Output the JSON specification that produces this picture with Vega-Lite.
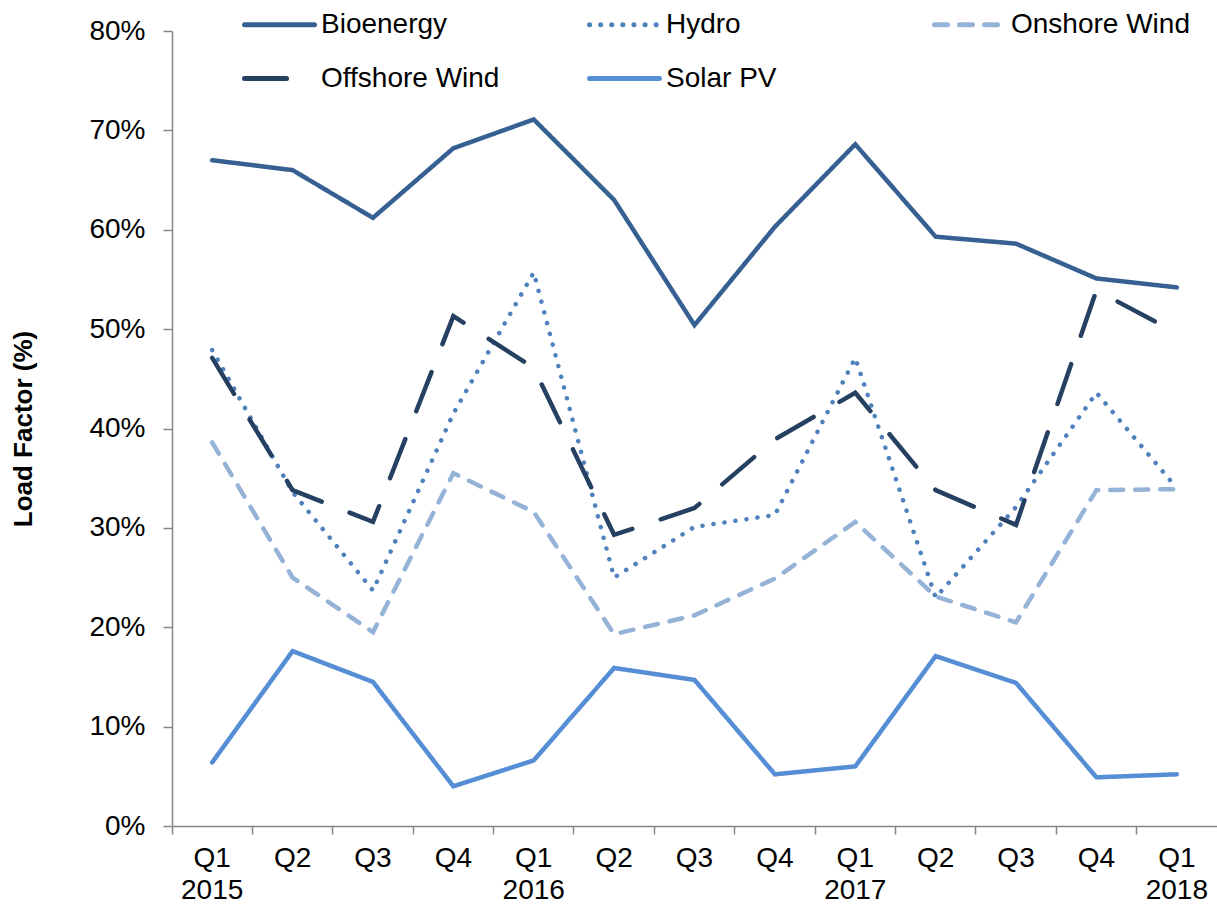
{
  "$schema": "https://vega.github.io/schema/vega-lite/v6.json",
  "width": 1045,
  "height": 795,
  "autosize": "none",
  "padding": {"left": 172, "top": 31, "right": 0, "bottom": 80},
  "background": "white",
  "config": {
    "view": {"stroke": null},
    "font": "Liberation Sans"
  },
  "data": {
    "values": [
      {"q": "Q1 2015", "s": "Bioenergy", "v": 67.0},
      {"q": "Q2 2015", "s": "Bioenergy", "v": 66.0},
      {"q": "Q3 2015", "s": "Bioenergy", "v": 61.2},
      {"q": "Q4 2015", "s": "Bioenergy", "v": 68.2},
      {"q": "Q1 2016", "s": "Bioenergy", "v": 71.1},
      {"q": "Q2 2016", "s": "Bioenergy", "v": 63.0},
      {"q": "Q3 2016", "s": "Bioenergy", "v": 50.4},
      {"q": "Q4 2016", "s": "Bioenergy", "v": 60.3},
      {"q": "Q1 2017", "s": "Bioenergy", "v": 68.6},
      {"q": "Q2 2017", "s": "Bioenergy", "v": 59.3},
      {"q": "Q3 2017", "s": "Bioenergy", "v": 58.6},
      {"q": "Q4 2017", "s": "Bioenergy", "v": 55.1},
      {"q": "Q1 2018", "s": "Bioenergy", "v": 54.2},
      {"q": "Q1 2015", "s": "Hydro", "v": 47.9},
      {"q": "Q2 2015", "s": "Hydro", "v": 33.6},
      {"q": "Q3 2015", "s": "Hydro", "v": 23.7},
      {"q": "Q4 2015", "s": "Hydro", "v": 41.5},
      {"q": "Q1 2016", "s": "Hydro", "v": 55.7},
      {"q": "Q2 2016", "s": "Hydro", "v": 25.0},
      {"q": "Q3 2016", "s": "Hydro", "v": 30.1},
      {"q": "Q4 2016", "s": "Hydro", "v": 31.3},
      {"q": "Q1 2017", "s": "Hydro", "v": 47.1},
      {"q": "Q2 2017", "s": "Hydro", "v": 23.0},
      {"q": "Q3 2017", "s": "Hydro", "v": 32.1},
      {"q": "Q4 2017", "s": "Hydro", "v": 43.6},
      {"q": "Q1 2018", "s": "Hydro", "v": 34.0},
      {"q": "Q1 2015", "s": "Onshore Wind", "v": 38.6},
      {"q": "Q2 2015", "s": "Onshore Wind", "v": 25.0},
      {"q": "Q3 2015", "s": "Onshore Wind", "v": 19.5},
      {"q": "Q4 2015", "s": "Onshore Wind", "v": 35.5},
      {"q": "Q1 2016", "s": "Onshore Wind", "v": 31.6},
      {"q": "Q2 2016", "s": "Onshore Wind", "v": 19.3},
      {"q": "Q3 2016", "s": "Onshore Wind", "v": 21.2},
      {"q": "Q4 2016", "s": "Onshore Wind", "v": 24.9},
      {"q": "Q1 2017", "s": "Onshore Wind", "v": 30.6},
      {"q": "Q2 2017", "s": "Onshore Wind", "v": 23.1},
      {"q": "Q3 2017", "s": "Onshore Wind", "v": 20.5},
      {"q": "Q4 2017", "s": "Onshore Wind", "v": 33.8},
      {"q": "Q1 2018", "s": "Onshore Wind", "v": 33.9},
      {"q": "Q1 2015", "s": "Offshore Wind", "v": 47.1},
      {"q": "Q2 2015", "s": "Offshore Wind", "v": 33.8},
      {"q": "Q3 2015", "s": "Offshore Wind", "v": 30.6},
      {"q": "Q4 2015", "s": "Offshore Wind", "v": 51.3},
      {"q": "Q1 2016", "s": "Offshore Wind", "v": 46.1},
      {"q": "Q2 2016", "s": "Offshore Wind", "v": 29.3},
      {"q": "Q3 2016", "s": "Offshore Wind", "v": 32.0},
      {"q": "Q4 2016", "s": "Offshore Wind", "v": 38.9},
      {"q": "Q1 2017", "s": "Offshore Wind", "v": 43.6},
      {"q": "Q2 2017", "s": "Offshore Wind", "v": 33.8},
      {"q": "Q3 2017", "s": "Offshore Wind", "v": 30.3},
      {"q": "Q4 2017", "s": "Offshore Wind", "v": 53.9},
      {"q": "Q1 2018", "s": "Offshore Wind", "v": 49.6},
      {"q": "Q1 2015", "s": "Solar PV", "v": 6.4},
      {"q": "Q2 2015", "s": "Solar PV", "v": 17.6},
      {"q": "Q3 2015", "s": "Solar PV", "v": 14.5},
      {"q": "Q4 2015", "s": "Solar PV", "v": 4.0},
      {"q": "Q1 2016", "s": "Solar PV", "v": 6.6},
      {"q": "Q2 2016", "s": "Solar PV", "v": 15.9},
      {"q": "Q3 2016", "s": "Solar PV", "v": 14.7},
      {"q": "Q4 2016", "s": "Solar PV", "v": 5.2},
      {"q": "Q1 2017", "s": "Solar PV", "v": 6.0},
      {"q": "Q2 2017", "s": "Solar PV", "v": 17.1},
      {"q": "Q3 2017", "s": "Solar PV", "v": 14.4},
      {"q": "Q4 2017", "s": "Solar PV", "v": 4.9},
      {"q": "Q1 2018", "s": "Solar PV", "v": 5.2}
    ]
  },
  "resolve": {"axis": {"x": "independent"}},
  "layer": [
    {
      "mark": {"type": "line", "strokeWidth": 4.5, "strokeCap": "round", "strokeJoin": "miter"},
      "encoding": {
        "x": {
          "field": "q",
          "type": "ordinal",
          "sort": null,
          "scale": {"type": "band", "paddingInner": 0, "paddingOuter": 0},
          "axis": {
            "title": null,
            "orient": "bottom",
            "labelAngle": 0,
            "bandPosition": 0,
            "labelExpr": "slice(datum.value,0,2)",
            "labelFontSize": 28,
            "labelColor": "black",
            "labelPadding": 10,
            "tickSize": 8,
            "tickColor": "#868686",
            "domainColor": "#868686",
            "tickWidth": 1.5,
            "domainWidth": 1.5,
            "grid": false
          }
        },
        "y": {
          "field": "v",
          "type": "quantitative",
          "scale": {"domain": [0, 80], "nice": false},
          "axis": {
            "title": "Load Factor (%)",
            "titleFontSize": 26,
            "titleFontWeight": "bold",
            "titleColor": "black",
            "titlePadding": 52,
            "values": [0, 10, 20, 30, 40, 50, 60, 70, 80],
            "labelExpr": "datum.value + '%'",
            "labelFontSize": 28,
            "labelColor": "black",
            "labelPadding": 18,
            "tickSize": 9,
            "tickColor": "#868686",
            "domainColor": "#868686",
            "tickWidth": 1.5,
            "domainWidth": 1.5,
            "grid": false
          }
        },
        "color": {
          "field": "s",
          "type": "nominal",
          "sort": null,
          "scale": {
            "domain": ["Bioenergy", "Hydro", "Onshore Wind", "Offshore Wind", "Solar PV"],
            "range": ["#376092", "#4F81BD", "#95B3D7", "#254061", "#558ED5"]
          },
          "legend": {
            "title": null,
            "orient": "none",
            "legendX": 70,
            "legendY": -44,
            "direction": "horizontal",
            "columns": 3,
            "gridAlign": "all",
            "columnPadding": 79,
            "symbolType": "stroke",
            "symbolSize": 4900,
            "symbolStrokeWidth": 5,
            "labelFontSize": 28,
            "labelColor": "black",
            "labelOffset": 4,
            "labelLimit": 400,
            "padding": 0,
            "encode": {"symbols": {"update": {"strokeCap": {"value": "round"}}}}
          }
        },
        "strokeDash": {
          "field": "s",
          "type": "nominal",
          "sort": null,
          "scale": {
            "domain": ["Bioenergy", "Hydro", "Onshore Wind", "Offshore Wind", "Solar PV"],
            "range": [[1, 0], [0.1, 11], [13, 12], [42, 30], [1, 0]]
          }
        }
      }
    },
    {
      "mark": {"type": "point", "opacity": 0},
      "encoding": {
        "x": {
          "field": "q",
          "type": "ordinal",
          "sort": null,
          "axis": {
            "title": null,
            "orient": "bottom",
            "labelAngle": 0,
            "labelExpr": "slice(datum.value,0,2)=='Q1' ? slice(datum.value,3) : ''",
            "labelFontSize": 28,
            "labelColor": "black",
            "labelPadding": 50,
            "ticks": false,
            "tickSize": 0,
            "domain": false,
            "grid": false
          }
        }
      }
    }
  ]
}
